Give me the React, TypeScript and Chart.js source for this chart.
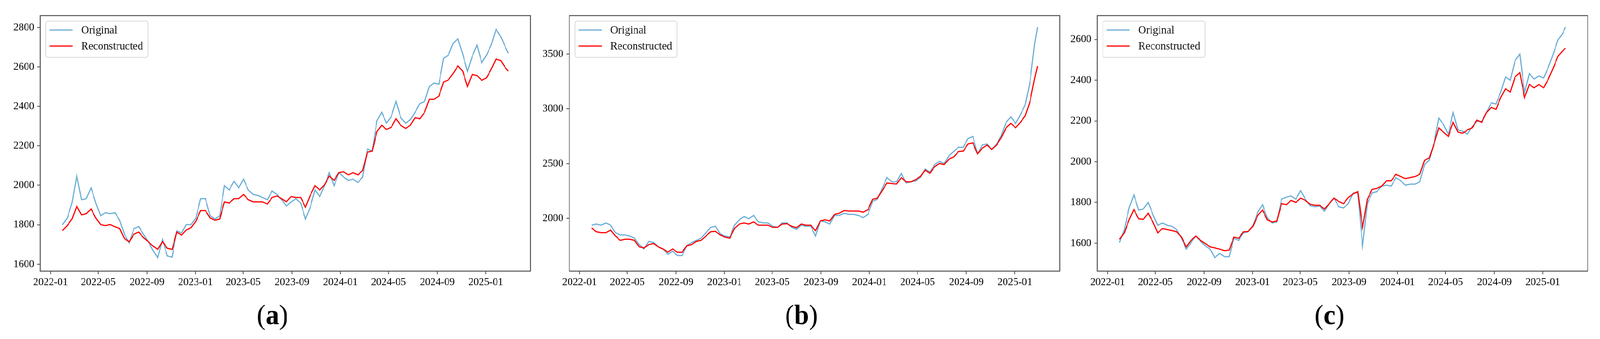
import React, { useEffect, useRef } from 'react';
import { Chart, registerables } from 'chart.js';

Chart.register(...registerables);

const FONT = "'Liberation Serif', 'Times New Roman', Times, serif";

// x positions: days since 2022-01-01 (trading series)
const sampleDays = [
  30, 42, 54, 66, 78, 90, 102, 114, 126, 138,
  150, 162, 174, 186, 198, 210, 222, 234, 246, 258,
  270, 282, 294, 306, 318, 330, 342, 354, 366, 378,
  390, 402, 414, 426, 438, 450, 462, 474, 486, 498,
  510, 522, 534, 546, 558, 570, 582, 594, 606, 618,
  630, 642, 654, 666, 678, 690, 702, 714, 726, 738,
  750, 762, 774, 786, 798, 810, 822, 834, 846, 858,
  870, 882, 894, 906, 918, 930, 942, 954, 966, 978,
  990, 1002, 1014, 1026, 1038, 1050, 1062, 1074, 1086, 1098,
  1110, 1122, 1134, 1146, 1153,
];

const originalA = [
  1800, 1834, 1910, 2050, 1927, 1932, 1987, 1910, 1845, 1861,
  1856, 1861, 1823, 1752, 1708, 1780, 1791, 1752, 1714, 1670,
  1632, 1725, 1642, 1636, 1769, 1758, 1801, 1801, 1834, 1932,
  1932, 1845, 1829, 1845, 1998, 1976, 2020, 1987, 2031, 1976,
  1954, 1949, 1938, 1927, 1971, 1954, 1927, 1894, 1916, 1932,
  1910, 1829, 1889, 1976, 1943, 1998, 2064, 1998, 2064, 2042,
  2025, 2031, 2014, 2042, 2184, 2173, 2326, 2370, 2315, 2348,
  2425, 2343, 2315, 2332, 2370, 2414, 2425, 2501, 2518, 2512,
  2644, 2660, 2720, 2742, 2665, 2578, 2654, 2710, 2622, 2660,
  2712, 2790, 2753, 2698, 2669,
];
const reconstructedA = [
  1770, 1796, 1829, 1894, 1850, 1856, 1880, 1834, 1801, 1796,
  1801, 1790, 1781, 1730, 1714, 1752, 1763, 1735, 1714, 1692,
  1675, 1714, 1681, 1675, 1763, 1747, 1774, 1785, 1818, 1872,
  1872, 1834, 1823, 1829, 1916, 1910, 1932, 1932, 1954, 1927,
  1916, 1916, 1916, 1905, 1938, 1946, 1932, 1916, 1943, 1938,
  1938, 1889, 1949, 1998, 1976, 2003, 2047, 2025, 2064, 2069,
  2053, 2064, 2053, 2075, 2168, 2173, 2272, 2304, 2283, 2294,
  2337, 2304, 2288, 2304, 2343, 2337, 2370, 2436, 2436, 2452,
  2523, 2534, 2567, 2605, 2578, 2501, 2562, 2556, 2532, 2545,
  2589, 2640, 2632, 2594, 2579,
];

const originalB = [
  1937, 1947, 1937, 1957, 1937, 1868, 1848, 1848, 1838, 1818,
  1759, 1719, 1789, 1779, 1739, 1719, 1670, 1699, 1660, 1660,
  1749, 1779, 1798, 1818, 1868, 1917, 1927, 1858, 1838, 1828,
  1937, 1986, 2016, 1996, 2026, 1967, 1957, 1957, 1927, 1917,
  1957, 1957, 1917, 1897, 1937, 1927, 1927, 1838, 1976, 1967,
  1947, 2026, 2026, 2046, 2036, 2036, 2026, 2006, 2036, 2155,
  2174, 2273, 2372, 2333, 2333, 2412, 2323, 2333, 2342, 2372,
  2451, 2422, 2491, 2521, 2501, 2570, 2610, 2649, 2649, 2728,
  2748, 2590, 2669, 2679, 2629, 2679, 2758, 2877, 2926, 2867,
  2946, 3035, 3243, 3599, 3747,
];
const reconstructedB = [
  1911, 1877, 1868, 1868, 1893, 1838, 1798, 1808, 1808, 1798,
  1739, 1729, 1759, 1769, 1739, 1719, 1690, 1719, 1690, 1690,
  1749, 1759, 1789, 1798, 1838, 1877, 1881, 1848, 1828, 1818,
  1907, 1947, 1957, 1947, 1967, 1937, 1937, 1937, 1917, 1917,
  1947, 1951, 1927, 1913, 1947, 1937, 1937, 1887, 1976, 1986,
  1976, 2036, 2046, 2071, 2066, 2066, 2066, 2056, 2079, 2174,
  2184, 2253, 2323, 2317, 2313, 2372, 2333, 2333, 2352, 2382,
  2441, 2412, 2471, 2501, 2491, 2540, 2560, 2610, 2614, 2679,
  2689, 2590, 2639, 2669, 2629, 2669, 2738, 2827, 2867, 2827,
  2877, 2936, 3065, 3282, 3391,
];

const originalC = [
  1603, 1667, 1773, 1837, 1763, 1768, 1800, 1741, 1688, 1699,
  1688, 1683, 1667, 1624, 1571, 1603, 1635, 1609, 1587, 1571,
  1529, 1550, 1534, 1534, 1624, 1614, 1651, 1656, 1688, 1752,
  1789, 1725, 1699, 1704, 1816, 1826, 1832, 1816, 1858, 1816,
  1784, 1779, 1782, 1757, 1794, 1821, 1779, 1773, 1794, 1847,
  1847, 1587, 1794, 1847, 1853, 1880, 1885, 1880, 1922, 1906,
  1885, 1890, 1890, 1901, 1986, 2007, 2092, 2214, 2182, 2135,
  2241, 2156, 2150, 2135, 2172, 2198, 2198, 2241, 2289, 2283,
  2342, 2416, 2400, 2496, 2528, 2340, 2432, 2406, 2421, 2411,
  2464, 2528, 2597, 2629, 2661,
];
const reconstructedC = [
  1619, 1651, 1715, 1765, 1720, 1717, 1747, 1704, 1651, 1672,
  1667, 1662, 1656, 1630, 1582, 1614, 1635, 1614, 1598, 1582,
  1577, 1571, 1563, 1566, 1630, 1624, 1656, 1658, 1683, 1736,
  1763, 1715, 1704, 1709, 1794, 1789, 1810, 1800, 1821, 1810,
  1791, 1786, 1786, 1768, 1794, 1821, 1805, 1794, 1824, 1842,
  1853, 1678, 1816, 1864, 1869, 1880, 1906, 1906, 1938, 1927,
  1917, 1922, 1927, 1938, 2007, 2018, 2087, 2166, 2145, 2124,
  2193, 2145, 2140, 2156, 2166, 2204, 2193, 2241, 2267, 2257,
  2315, 2358, 2342, 2416, 2437, 2315, 2379, 2363, 2379, 2363,
  2406, 2459, 2517, 2544, 2557,
];

const xTickLabels = [
  '2022-01', '2022-05', '2022-09', '2023-01', '2023-05',
  '2023-09', '2024-01', '2024-05', '2024-09', '2025-01',
];
const yTicksA = [1600, 1800, 2000, 2200, 2400, 2600, 2800];
const yTicksB = [2000, 2500, 3000, 3500];
const yTicksC = [1600, 1800, 2000, 2200, 2400, 2600];
const yRangeA = [1565, 2860];
const yRangeB = [1517, 3852];
const yRangeC = [1463, 2717];
const xRange = [-26, 1209];

const seriesLabels = ['Original', 'Reconstructed'];
const seriesColors = ['#6baed6', '#ff0000'];
const captionLetters = ['a', 'b', 'c'];

// layout (design pixels, 4294 x 869)
const DESIGN_W = 4294;
const DESIGN_H = 869;
const AXIS_W = 100;
const PLOT_W = 1316;
const PLOT_TOP = 40;
const PLOT_BOTTOM = 695;
const X_AXIS_H = 64;
const CANVAS_H = 869;
const RIGHT_PAD = 10;
const CANVAS_W = AXIS_W + PLOT_W + RIGHT_PAD;
const panelPlotLefts = [108, 1528, 2945];

const dayOfLabel = (label: string) => {
  const [y, m] = label.split('-').map(Number);
  return (Date.UTC(y, m - 1, 1) - Date.UTC(2022, 0, 1)) / 86400000;
};

const toPoints = (vals: number[]) => sampleDays.map((d, i) => ({ x: d, y: vals[i] }));

const decorPlugin = (letter: string) => ({
  id: 'decor_' + letter,
  afterDatasetsDraw(chart: any) {
    const { ctx, chartArea: a } = chart;
    ctx.save();
    const bx = a.left + 15;
    const by = a.top + 14;
    ctx.beginPath();
    ctx.roundRect(bx, by, 274, 93, 6);
    ctx.fillStyle = 'rgba(255,255,255,0.85)';
    ctx.fill();
    ctx.strokeStyle = '#d9d9d9';
    ctx.lineWidth = 2;
    ctx.stroke();
    seriesLabels.forEach((lab, i) => {
      const y = a.top + 37 + i * 41;
      ctx.beginPath();
      ctx.moveTo(a.left + 25, y);
      ctx.lineTo(a.left + 87, y);
      ctx.strokeStyle = seriesColors[i];
      ctx.lineWidth = 3;
      ctx.stroke();
      ctx.fillStyle = '#111';
      ctx.font = `29px ${FONT}`;
      ctx.textBaseline = 'middle';
      ctx.textAlign = 'left';
      ctx.fillText(lab, a.left + 110, y + 1);
    });
    ctx.restore();
  },
  afterDraw(chart: any) {
    const { ctx, chartArea: a } = chart;
    ctx.save();
    ctx.strokeStyle = '#505050';
    ctx.lineWidth = 2.5;
    ctx.strokeRect(a.left, a.top, a.right - a.left, a.bottom - a.top);
    const size = 72;
    const fReg = `${size}px ${FONT}`;
    const fBold = `bold ${size}px ${FONT}`;
    ctx.font = fReg;
    const wL = ctx.measureText('(').width;
    const wR = ctx.measureText(')').width;
    ctx.font = fBold;
    const wA = ctx.measureText(letter).width;
    const total = wL + wA + wR;
    let x = (a.left + a.right) / 2 - 35 - total / 2;
    const base = 831;
    ctx.textBaseline = 'alphabetic';
    ctx.textAlign = 'left';
    ctx.fillStyle = '#000';
    ctx.font = fReg;
    ctx.fillText('(', x, base);
    x += wL;
    ctx.font = fBold;
    ctx.fillText(letter, x, base);
    x += wA;
    ctx.font = fReg;
    ctx.fillText(')', x, base);
    ctx.restore();
  },
});

type PanelCfg = {
  original: number[];
  reconstructed: number[];
  yTicks: number[];
  yRange: number[];
  letter: string;
  plotLeft: number;
};

const panels: PanelCfg[] = [
  { original: originalA, reconstructed: reconstructedA, yTicks: yTicksA, yRange: yRangeA, letter: captionLetters[0], plotLeft: panelPlotLefts[0] },
  { original: originalB, reconstructed: reconstructedB, yTicks: yTicksB, yRange: yRangeB, letter: captionLetters[1], plotLeft: panelPlotLefts[1] },
  { original: originalC, reconstructed: reconstructedC, yTicks: yTicksC, yRange: yRangeC, letter: captionLetters[2], plotLeft: panelPlotLefts[2] },
];

function Panel({ cfg }: { cfg: PanelCfg }) {
  const ref = useRef<HTMLCanvasElement>(null);
  useEffect(() => {
    const canvas = ref.current!;
    const tickFont = { family: FONT, size: 28 };
    const chart = new Chart(canvas, {
      type: 'line',
      data: {
        datasets: [
          {
            label: seriesLabels[0],
            data: toPoints(cfg.original),
            borderColor: seriesColors[0],
            borderWidth: 3,
            pointRadius: 0,
            tension: 0,
            order: 2,
          },
          {
            label: seriesLabels[1],
            data: toPoints(cfg.reconstructed),
            borderColor: seriesColors[1],
            borderWidth: 3,
            pointRadius: 0,
            tension: 0,
            order: 1,
          },
        ],
      },
      options: {
        animation: false,
        responsive: false,
        maintainAspectRatio: false,
        events: [],
        layout: {
          padding: {
            top: PLOT_TOP,
            right: RIGHT_PAD,
            left: 0,
            bottom: CANVAS_H - PLOT_BOTTOM - X_AXIS_H,
          },
        },
        plugins: {
          legend: { display: false },
          tooltip: { enabled: false },
          title: { display: false },
        },
        scales: {
          x: {
            type: 'linear',
            min: xRange[0],
            max: xRange[1],
            afterBuildTicks: (s: any) => {
              s.ticks = xTickLabels.map((l) => ({ value: dayOfLabel(l) }));
            },
            afterFit: (s: any) => {
              s.height = X_AXIS_H;
            },
            ticks: {
              autoSkip: false,
              maxRotation: 0,
              minRotation: 0,
              font: tickFont,
              color: '#000',
              padding: 4,
              callback: (_v: any, i: number) => xTickLabels[i],
            },
            grid: {
              drawOnChartArea: false,
              drawTicks: true,
              tickLength: 8,
              tickWidth: 2,
              tickColor: '#444',
            },
            border: { display: false },
          },
          y: {
            type: 'linear',
            min: cfg.yRange[0],
            max: cfg.yRange[1],
            afterBuildTicks: (s: any) => {
              s.ticks = cfg.yTicks.map((v) => ({ value: v }));
            },
            afterFit: (s: any) => {
              s.width = AXIS_W;
            },
            ticks: {
              font: tickFont,
              color: '#000',
              padding: 8,
              callback: (v: any) => String(v),
            },
            grid: {
              drawOnChartArea: false,
              drawTicks: true,
              tickLength: 8,
              tickWidth: 2,
              tickColor: '#444',
            },
            border: { display: false },
          },
        },
      } as any,
      plugins: [decorPlugin(cfg.letter)],
    });
    return () => chart.destroy();
  }, [cfg]);
  return (
    <canvas
      ref={ref}
      width={CANVAS_W}
      height={CANVAS_H}
      style={{
        position: 'absolute',
        left: cfg.plotLeft - AXIS_W,
        top: 0,
        width: CANVAS_W,
        height: CANVAS_H,
      }}
    />
  );
}

export default function App() {
  // The real viewport may be narrower than the 4294px design; fit the design to it horizontally.
  const vw = typeof window !== 'undefined' ? window.innerWidth : DESIGN_W;
  const sx = vw > 0 && vw < DESIGN_W ? vw / DESIGN_W : 1;
  return (
    <div
      style={{
        position: 'absolute',
        left: 0,
        top: 0,
        width: DESIGN_W,
        height: DESIGN_H,
        background: '#fff',
        overflow: 'hidden',
        fontFamily: FONT,
        transform: `scaleX(${sx})`,
        transformOrigin: '0 0',
      }}
    >
      {panels.map((p) => (
        <Panel key={p.letter} cfg={p} />
      ))}
    </div>
  );
}
